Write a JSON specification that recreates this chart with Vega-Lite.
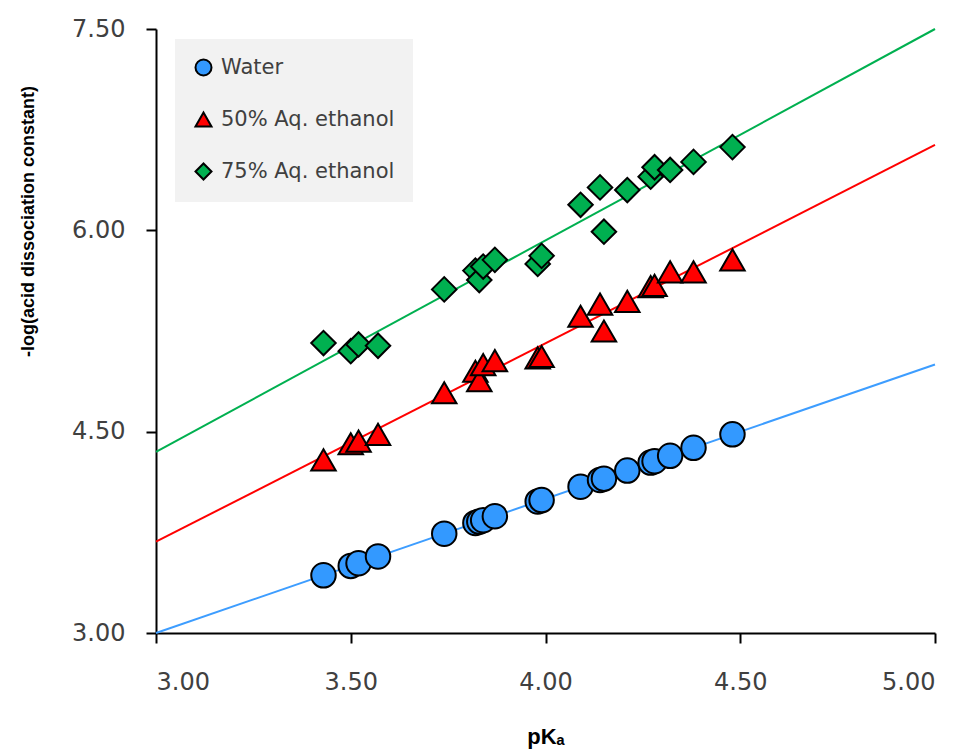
{
  "$schema": "https://vega.github.io/schema/vega-lite/v6.json",
  "autosize": "none",
  "width": 779,
  "height": 604,
  "padding": {"left": 156, "top": 29, "right": 31, "bottom": 120},
  "background": "white",
  "config": {
    "view": {"stroke": null},
    "axis": {
      "grid": false,
      "domainColor": "black",
      "domainWidth": 2,
      "tickColor": "black",
      "tickWidth": 2,
      "tickSize": 10,
      "labelFont": "DejaVu Sans",
      "labelFontSize": 24,
      "labelColor": "#404040",
      "titleFont": "Liberation Sans",
      "titleFontWeight": "bold",
      "titleColor": "black"
    }
  },
  "datasets": {
    "points": [
      {"series": "Water", "pKa": 3.43, "value": 3.43},
      {"series": "Water", "pKa": 3.50, "value": 3.50},
      {"series": "Water", "pKa": 3.52, "value": 3.52},
      {"series": "Water", "pKa": 3.57, "value": 3.57},
      {"series": "Water", "pKa": 3.74, "value": 3.74},
      {"series": "Water", "pKa": 3.82, "value": 3.82},
      {"series": "Water", "pKa": 3.83, "value": 3.83},
      {"series": "Water", "pKa": 3.84, "value": 3.84},
      {"series": "Water", "pKa": 3.87, "value": 3.87},
      {"series": "Water", "pKa": 3.98, "value": 3.98},
      {"series": "Water", "pKa": 3.99, "value": 3.99},
      {"series": "Water", "pKa": 4.09, "value": 4.09},
      {"series": "Water", "pKa": 4.14, "value": 4.14},
      {"series": "Water", "pKa": 4.15, "value": 4.15},
      {"series": "Water", "pKa": 4.21, "value": 4.21},
      {"series": "Water", "pKa": 4.27, "value": 4.27},
      {"series": "Water", "pKa": 4.28, "value": 4.28},
      {"series": "Water", "pKa": 4.32, "value": 4.32},
      {"series": "Water", "pKa": 4.38, "value": 4.38},
      {"series": "Water", "pKa": 4.48, "value": 4.48},
      {"series": "50% Aq. ethanol", "pKa": 3.43, "value": 4.29},
      {"series": "50% Aq. ethanol", "pKa": 3.50, "value": 4.41},
      {"series": "50% Aq. ethanol", "pKa": 3.52, "value": 4.43},
      {"series": "50% Aq. ethanol", "pKa": 3.57, "value": 4.48},
      {"series": "50% Aq. ethanol", "pKa": 3.74, "value": 4.79},
      {"series": "50% Aq. ethanol", "pKa": 3.82, "value": 4.95},
      {"series": "50% Aq. ethanol", "pKa": 3.83, "value": 4.88},
      {"series": "50% Aq. ethanol", "pKa": 3.84, "value": 5.00},
      {"series": "50% Aq. ethanol", "pKa": 3.87, "value": 5.03},
      {"series": "50% Aq. ethanol", "pKa": 3.98, "value": 5.05},
      {"series": "50% Aq. ethanol", "pKa": 3.99, "value": 5.06},
      {"series": "50% Aq. ethanol", "pKa": 4.09, "value": 5.36},
      {"series": "50% Aq. ethanol", "pKa": 4.14, "value": 5.45},
      {"series": "50% Aq. ethanol", "pKa": 4.15, "value": 5.25},
      {"series": "50% Aq. ethanol", "pKa": 4.21, "value": 5.47},
      {"series": "50% Aq. ethanol", "pKa": 4.27, "value": 5.58},
      {"series": "50% Aq. ethanol", "pKa": 4.28, "value": 5.59},
      {"series": "50% Aq. ethanol", "pKa": 4.32, "value": 5.69},
      {"series": "50% Aq. ethanol", "pKa": 4.38, "value": 5.69},
      {"series": "50% Aq. ethanol", "pKa": 4.48, "value": 5.78},
      {"series": "75% Aq. ethanol", "pKa": 3.43, "value": 5.16},
      {"series": "75% Aq. ethanol", "pKa": 3.50, "value": 5.10},
      {"series": "75% Aq. ethanol", "pKa": 3.52, "value": 5.15},
      {"series": "75% Aq. ethanol", "pKa": 3.57, "value": 5.14},
      {"series": "75% Aq. ethanol", "pKa": 3.74, "value": 5.56},
      {"series": "75% Aq. ethanol", "pKa": 3.82, "value": 5.70},
      {"series": "75% Aq. ethanol", "pKa": 3.83, "value": 5.63},
      {"series": "75% Aq. ethanol", "pKa": 3.84, "value": 5.73},
      {"series": "75% Aq. ethanol", "pKa": 3.87, "value": 5.78},
      {"series": "75% Aq. ethanol", "pKa": 3.98, "value": 5.75},
      {"series": "75% Aq. ethanol", "pKa": 3.99, "value": 5.81},
      {"series": "75% Aq. ethanol", "pKa": 4.09, "value": 6.19},
      {"series": "75% Aq. ethanol", "pKa": 4.14, "value": 6.32},
      {"series": "75% Aq. ethanol", "pKa": 4.15, "value": 5.99},
      {"series": "75% Aq. ethanol", "pKa": 4.21, "value": 6.30},
      {"series": "75% Aq. ethanol", "pKa": 4.27, "value": 6.40},
      {"series": "75% Aq. ethanol", "pKa": 4.28, "value": 6.47},
      {"series": "75% Aq. ethanol", "pKa": 4.32, "value": 6.45},
      {"series": "75% Aq. ethanol", "pKa": 4.38, "value": 6.51},
      {"series": "75% Aq. ethanol", "pKa": 4.48, "value": 6.62}
    ],
    "fits": [
      {"series": "Water", "pKa": 3.0, "value": 3.0},
      {"series": "Water", "pKa": 5.0, "value": 5.0},
      {"series": "50% Aq. ethanol", "pKa": 3.0, "value": 3.68},
      {"series": "50% Aq. ethanol", "pKa": 5.0, "value": 6.636},
      {"series": "75% Aq. ethanol", "pKa": 3.0, "value": 4.35},
      {"series": "75% Aq. ethanol", "pKa": 5.0, "value": 7.5}
    ]
  },
  "encoding": {
    "x": {
      "field": "pKa",
      "type": "quantitative",
      "scale": {"domain": [3, 5], "nice": false, "zero": false},
      "axis": {
        "values": [3, 3.5, 4, 4.5, 5],
        "format": ".2f",
        "labelPadding": 27,
        "title": "pKₐ",
        "titleFontSize": 22,
        "titleBaseline": "alphabetic",
        "titleY": 110
      }
    },
    "y": {
      "field": "value",
      "type": "quantitative",
      "scale": {"domain": [3, 7.5], "nice": false, "zero": false},
      "axis": {
        "values": [3, 4.5, 6, 7.5],
        "format": ".2f",
        "labelPadding": 21,
        "title": "-log(acid dissociation constant)",
        "titleFontSize": 18,
        "titleX": -128,
        "titleY": 192,
        "titleAngle": -90,
        "titleAlign": "center",
        "titleBaseline": "middle"
      }
    }
  },
  "layer": [
    {
      "data": {"name": "fits"},
      "transform": [{"filter": "datum.series === 'Water'"}],
      "mark": {"type": "line", "color": "#3d9dff", "strokeWidth": 2}
    },
    {
      "data": {"name": "fits"},
      "transform": [{"filter": "datum.series === '50% Aq. ethanol'"}],
      "mark": {"type": "line", "color": "#ff0000", "strokeWidth": 2}
    },
    {
      "data": {"name": "fits"},
      "transform": [{"filter": "datum.series === '75% Aq. ethanol'"}],
      "mark": {"type": "line", "color": "#00b050", "strokeWidth": 2}
    },
    {
      "data": {"name": "points"},
      "mark": {"type": "point", "filled": true, "opacity": 1, "stroke": "black", "strokeWidth": 2, "size": 600},
      "encoding": {
        "color": {
          "field": "series",
          "type": "nominal",
          "scale": {"domain": ["Water", "50% Aq. ethanol", "75% Aq. ethanol"], "range": ["#3399ff", "#ff0000", "#00b050"]},
          "legend": {
            "title": null,
            "orient": "none",
            "legendX": 19,
            "legendY": 10,
            "padding": 18,
            "fillColor": "#f2f2f2",
            "rowPadding": 28,
            "symbolSize": 256,
            "symbolStrokeColor": "black",
            "symbolStrokeWidth": 2,
            "symbolOpacity": 1,
            "labelFont": "DejaVu Sans",
            "labelFontSize": 21,
            "labelColor": "#404040",
            "labelOffset": 7,
            "labelLimit": 400
          }
        },
        "shape": {
          "field": "series",
          "type": "nominal",
          "scale": {"domain": ["Water", "50% Aq. ethanol", "75% Aq. ethanol"], "range": ["circle", "triangle-up", "diamond"]}
        }
      }
    }
  ]
}
